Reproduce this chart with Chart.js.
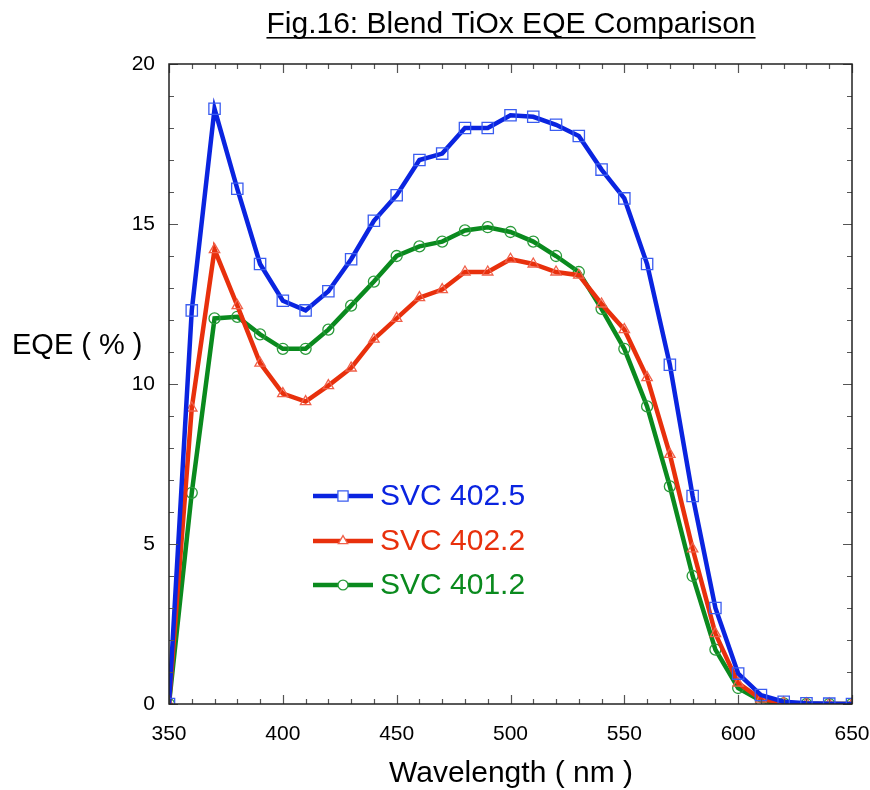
<!DOCTYPE html>
<html>
<head>
<meta charset="utf-8">
<script src="https://cdn.jsdelivr.net/npm/chart.js@4.4.1/dist/chart.umd.min.js"></script>
<style>
	html, body { margin:0; padding:0; background:#fff; }
	#wrap { position:relative; width:870px; height:790px; }
</style>
</head>
<body>
<div id="wrap"><canvas id="c" width="870" height="790"></canvas></div>
<script>
const wavelength = [350,360,370,380,390,400,410,420,430,440,450,460,470,480,490,500,510,520,530,540,550,560,570,580,590,600,610,620,630,640,650]
const svc4025 = [0,12.3,18.6,16.1,13.75,12.6,12.3,12.9,13.9,15.1,15.9,17.0,17.2,18.0,18.0,18.4,18.35,18.1,17.75,16.7,15.8,13.75,10.6,6.5,3.0,0.95,0.28,0.07,0.02,0.01,0]
const svc4022 = [0,9.25,14.2,12.45,10.65,9.7,9.45,9.95,10.5,11.4,12.05,12.7,12.95,13.5,13.5,13.9,13.75,13.5,13.4,12.5,11.7,10.2,7.8,4.85,2.2,0.65,0.15,0.04,0.01,0,0]
const svc4012 = [0,6.6,12.05,12.1,11.55,11.1,11.1,11.7,12.45,13.2,14.0,14.3,14.45,14.8,14.9,14.75,14.45,14.0,13.5,12.35,11.1,9.3,6.8,4.0,1.7,0.5,0.1,0.02,0,0,0]
const seriesNames = ['SVC 402.5','SVC 402.2','SVC 401.2']
const xTicks = [350,400,450,500,550,600,650]
const yTicks = [0,5,10,15,20]

const FONT = '"Liberation Sans", Arial, Helvetica, sans-serif'
const pts = ys => wavelength.map((x, i) => ({x, y: ys[i]}))

const ds = (label, data, line, mark, style, r) => ({
	label, data: pts(data),
	borderColor: line, borderWidth: 4.5,
	pointStyle: style, pointRadius: r, pointHoverRadius: r,
	pointBorderColor: mark, pointBorderWidth: 1.3,
	pointBackgroundColor: 'rgba(255,255,255,0)',
	tension: 0,
})

// inward ticks on all four sides, title, axis labels, legend
const deko = {
	id: 'deko',
	afterDatasetsDraw: c => {
		const g = c.ctx, a = c.chartArea, sx = c.scales.x, sy = c.scales.y
		g.save()
		g.strokeStyle = '#555'
		g.lineWidth = 1.2
		g.beginPath()
		for (let v = 350; v <= 650; v += 10) {
			const p = Math.round(sx.getPixelForValue(v)) + 0.5, l = v % 50 ? 5 : 9
			g.moveTo(p, a.bottom); g.lineTo(p, a.bottom - l)
			g.moveTo(p, a.top); g.lineTo(p, a.top + l)
		}
		for (let v = 0; v <= 20; v += 1) {
			const p = Math.round(sy.getPixelForValue(v)) + 0.5, l = v % 5 ? 5 : 9
			g.moveTo(a.left, p); g.lineTo(a.left + l, p)
			g.moveTo(a.right, p); g.lineTo(a.right - l, p)
		}
		g.stroke()
		g.strokeStyle = '#222'
		g.lineWidth = 1.5
		g.strokeRect(a.left, a.top, a.right - a.left, a.bottom - a.top)

		// legend
		const ly = [496, 541, 585]
		c.data.datasets.forEach((d, i) => {
			const y = ly[i]
			g.strokeStyle = d.borderColor
			g.lineWidth = 4.5
			g.beginPath(); g.moveTo(313, y); g.lineTo(373, y); g.stroke()
			g.lineWidth = 1.3
			g.fillStyle = '#fff'
			g.strokeStyle = d.pointBorderColor
			Chart.helpers.drawPoint(g, {pointStyle: d.pointStyle, radius: d.pointRadius * 0.9, borderWidth: 1.3}, 343, y)
			g.fillStyle = d.borderColor
			g.font = '30px ' + FONT
			g.textBaseline = 'middle'
			g.textAlign = 'left'
			g.fillText(d.label, 380, y + 1)
		})

		// title and axis labels
		g.fillStyle = '#000'
		g.textAlign = 'center'
		g.textBaseline = 'alphabetic'
		g.font = '30px ' + FONT
		const t = 'Fig.16: Blend TiOx EQE Comparison'
		g.fillText(t, 511, 33)
		const w = g.measureText(t).width
		g.fillRect(511 - w / 2, 37, w, 1.6)
		g.fillText('Wavelength ( nm )', 511, 782)
		g.textAlign = 'left'
		g.font = '29px ' + FONT
		g.fillText('EQE ( % )', 12, 354)
		g.restore()
	}
}

const el = a => document.getElementById(a)

new Chart(el('c'), {
	type: 'line',
	data: {
		datasets: [
			ds(seriesNames[0], svc4025, '#0a24e0', '#3a5cf0', 'rect', 8),
			ds(seriesNames[1], svc4022, '#e8300c', '#f0604a', 'triangle', 6),
			ds(seriesNames[2], svc4012, '#0a8a1e', '#2a9a3a', 'circle', 5.5),
		]
	},
	options: {
		responsive: false,
		animation: false,
		layout: { padding: { top: 64, right: 18, left: 0, bottom: 0 } },
		plugins: { legend: { display: false }, tooltip: { enabled: false } },
		scales: {
			x: {
				type: 'linear', min: 350, max: 650,
				afterFit: s => { s.height = 86; s.paddingLeft = 0; s.paddingRight = 0 },
				afterBuildTicks: s => { s.ticks = xTicks.map(value => ({value})) },
				grid: { display: false, drawTicks: false },
				border: { display: false },
				ticks: { color: '#000', padding: 18, font: { size: 21, family: FONT }, maxRotation: 0 },
			},
			y: {
				min: 0, max: 20,
				afterFit: s => { s.width = 169; s.paddingTop = 0; s.paddingBottom = 0 },
				afterBuildTicks: s => { s.ticks = yTicks.map(value => ({value})) },
				grid: { display: false, drawTicks: false },
				border: { display: false },
				ticks: { color: '#000', padding: 14, font: { size: 21, family: FONT } },
			}
		}
	},
	plugins: [deko]
})
</script>
</body>
</html>
